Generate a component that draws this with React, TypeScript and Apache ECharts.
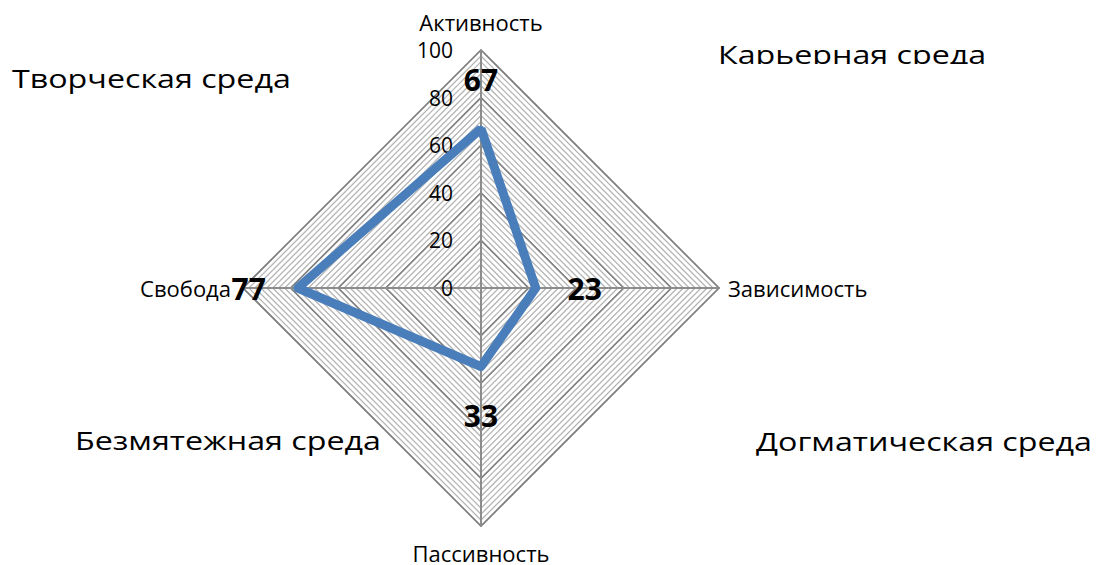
import React, { useEffect, useRef } from "react";
import * as echarts from "echarts";

const indicatorNames = ["Активность", "Свобода", "Пассивность", "Зависимость"];
const values = [67, 77, 33, 23];
const axisMax = 100;
const regionTexts = ["Творческая среда", "Карьерная среда", "Безмятежная среда", "Догматическая среда"];

const NAME_GAPS = [17, 12, 16, 9];
const CX = 481;
const CY = 288;
const R = 238;
const LABEL_OFFSET = 49;
const FONT = "'Open Sans', sans-serif";
const REGION_FONT = 26;
const REGION_SCALE = 1.24;

export default function App() {
  const ref = useRef<HTMLDivElement>(null);
  useEffect(() => {
    const chart = echarts.init(ref.current!, null, { renderer: "svg" });
    const indicators = indicatorNames.map((n, i) => ({
      name: n,
      min: 0,
      max: axisMax,
      nameGap: NAME_GAPS[i],
    }));
    const regionStyle = (text: string, align: string) => ({
      text,
      fontSize: REGION_FONT,
      fontFamily: FONT,
      fill: "#000",
      align,
      verticalAlign: "top",
    });
    chart.setOption({
      animation: false,
      textStyle: { fontFamily: FONT },
      radar: [
        {
          center: [CX, CY],
          radius: R,
          startAngle: 90,
          shape: "polygon",
          splitNumber: 40,
          indicator: indicators,
          nameGap: 12,
          axisName: { color: "#000", fontSize: 22, fontFamily: FONT },
          splitLine: { lineStyle: { color: "#b5b5b5", width: 1.3 } },
          splitArea: { show: false },
          axisLine: { lineStyle: { color: "#8c8c8c", width: 2 } },
          axisTick: { show: false },
          axisLabel: { show: false },
        },
        {
          center: [CX, CY],
          radius: R,
          startAngle: 90,
          shape: "polygon",
          splitNumber: 5,
          indicator: indicators.map((ind, i) => ({
            ...ind,
            axisLabel: { show: i === 0 },
          })),
          axisName: { show: false },
          splitLine: { lineStyle: { color: "#808080", width: 1.6 } },
          splitArea: { show: false },
          axisLine: { show: false },
          axisTick: { show: false },
          axisLabel: {
            show: true,
            color: "#000",
            fontSize: 21,
            fontFamily: FONT,
            margin: 28,
            showMinLabel: true,
            showMaxLabel: true,
          },
        },
      ],
      series: [
        {
          type: "radar",
          radarIndex: 0,
          symbol: "circle",
          symbolSize: 6,
          itemStyle: { color: "#4A7EBB" },
          lineStyle: { color: "#4A7EBB", width: 9, join: "round" },
          label: {
            show: true,
            color: "#000",
            fontSize: 30,
            fontWeight: "bold",
            fontFamily: FONT,
          },
          labelLayout: (p: any) => {
            const r = p.rect;
            const sx = r.x + r.width / 2;
            const sy = r.y + r.height / 2;
            const dx = sx - CX;
            const dy = sy - CY;
            const len = Math.hypot(dx, dy) || 1;
            return {
              x: sx + (dx / len) * LABEL_OFFSET,
              y: sy + (dy / len) * LABEL_OFFSET,
              align: "center",
              verticalAlign: "middle",
            };
          },
          data: [{ value: values, name: "Среда" }],
        },
      ],
      graphic: [
        {
          type: "text",
          x: 12,
          y: 65,
          scaleX: REGION_SCALE,
          style: regionStyle(regionTexts[0], "left"),
        },
        {
          type: "text",
          x: 718,
          y: 41,
          z: 10,
          scaleX: REGION_SCALE,
          style: regionStyle(regionTexts[1], "left"),
        },
        {
          type: "rect",
          x: 700,
          y: 64,
          z: 20,
          shape: { width: 390, height: 22 },
          style: { fill: "#fff" },
        },
        {
          type: "text",
          x: 75,
          y: 427,
          scaleX: REGION_SCALE,
          style: regionStyle(regionTexts[2], "left"),
        },
        {
          type: "text",
          x: 1092,
          y: 428,
          scaleX: REGION_SCALE,
          style: regionStyle(regionTexts[3], "right"),
        },
      ],
    });
    return () => chart.dispose();
  }, []);
  return (
    <div
      ref={ref}
      style={{ position: "absolute", left: 0, top: 0, width: 1098, height: 565, background: "#fff" }}
    />
  );
}
